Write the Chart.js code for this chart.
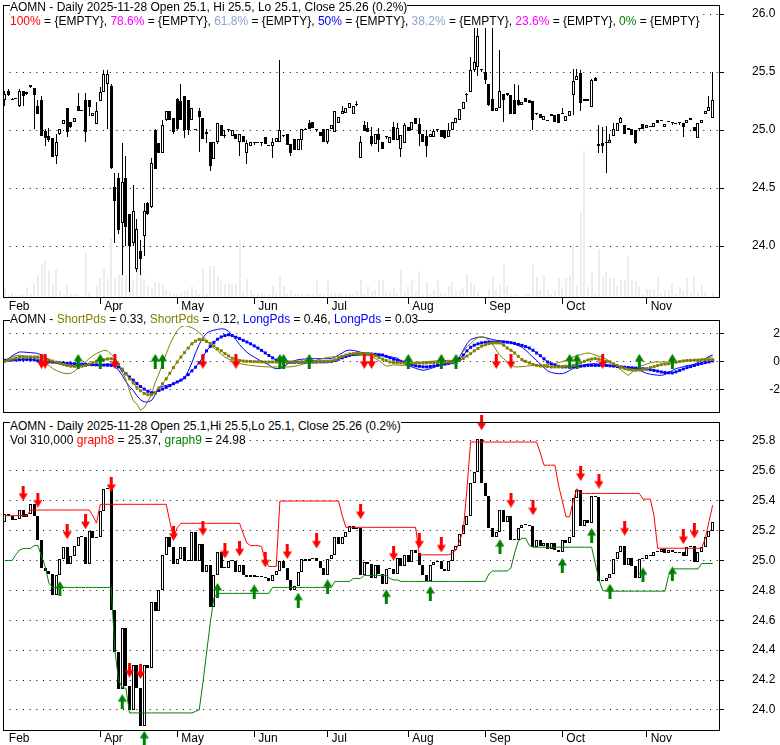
<!DOCTYPE html>
<html><head><meta charset="utf-8">
<script src="https://cdn.jsdelivr.net/npm/chart.js@4.4.1/dist/chart.umd.min.js"></script>
<style>
html,body{margin:0;padding:0;background:#fff;}
body{width:780px;height:745px;position:relative;overflow:hidden;font-family:'Liberation Sans',Arial,sans-serif;font-size:12px;color:#000;}
canvas{position:absolute;left:0;}
.t{position:absolute;left:10px;line-height:14px;height:14px;white-space:pre;font-size:12px;background:#fff;}
</style></head><body>
<canvas id="c1" width="780" height="315" style="top:0px;width:780px;height:315px"></canvas>
<canvas id="c2" width="780" height="100" style="top:315px;width:780px;height:100px"></canvas>
<canvas id="c3" width="780" height="330" style="top:415px;width:780px;height:330px"></canvas>
<div class="t" id="t1" style="top:0px"></div>
<div class="t" style="top:14px"><span style="color:#ff0000">100%</span> = {EMPTY}, <span style="color:#ff00ff">78.6%</span> = {EMPTY}, <span style="color:#8fa5d0">61.8%</span> = {EMPTY}, <span style="color:#0000ff">50%</span> = {EMPTY}, <span style="color:#8fa5d0">38.2%</span> = {EMPTY}, <span style="color:#ff00ff">23.6%</span> = {EMPTY}, <span style="color:#008000">0%</span> = {EMPTY}</div>
<div class="t" id="t2" style="top:312px"></div>
<div class="t" id="t3" style="top:419px"></div>
<div class="t" id="t4" style="top:433px"></div>
<script>
// ---------- DATA ----------
const ticker = 'AOMN';
const lastDate = '2025-11-28';
// first trading day index of each labelled month, and its label
const monthTickIdx = [0, 26, 47, 68, 88, 110, 131, 152, 175];
const monthTickLbl = ['Feb', 'Apr', 'May', 'Jun', 'Jul', 'Aug', 'Sep', 'Oct', 'Nov'];
const priceTicks = [24.0, 24.5, 25.0, 25.5, 26.0];
const oscTicks = [-2, 0, 2];
const lowerTicks = [24.0, 24.2, 24.4, 24.6, 24.8, 25.0, 25.2, 25.4, 25.6, 25.8];

const open = [
25.26,25.34,25.26,25.27,25.21,25.34,25.33,25.39,25.36,25.21,
25.26,24.99,24.95,24.93,24.78,24.965,25.055,25.19,25.07,25.07,
25.21,25.16,25.26,25.26,25.12,25.05,25.25,25.33,25.40,25.38,
24.51,24.59,24.20,24.59,24.28,24.03,23.80,23.96,24.09,24.37,
24.34,25.00,24.885,24.80,25.09,25.16,25.10,25.27,25.25,25.29,
25.26,25.09,25.01,25.16,25.10,24.98,24.90,24.75,24.90,25.04,
24.96,25.00,24.95,24.97,24.90,24.95,24.80,24.86,24.89,24.89,
24.89,24.94,24.86,24.86,24.90,24.90,24.95,24.97,24.88,24.92,
24.83,24.91,25.01,25.06,25.07,25.01,24.98,25.01,24.90,25.01,
24.98,25.06,25.14,25.15,25.19,25.14,25.22,24.76,25.04,25.02,
24.95,24.88,24.97,24.90,24.94,24.89,25.03,24.91,24.84,24.89,
25.03,25.00,25.10,25.05,24.97,24.95,24.94,24.94,25.00,25.00,
25.00,24.94,25.00,25.06,25.09,25.18,25.30,25.33,25.52,25.54,
25.52,25.50,25.40,25.27,25.16,25.19,25.31,25.32,25.30,25.26,
25.26,25.22,25.28,25.26,25.25,25.14,25.14,25.09,25.09,25.14,
25.13,25.14,25.14,25.08,25.12,25.30,25.43,25.49,25.25,25.27,
25.20,25.445,24.88,24.885,24.885,24.89,24.95,24.99,25.06,25.04,
25.00,25.01,25.00,25.01,25.05,25.02,25.03,25.03,25.09,25.09,
25.03,25.08,25.06,25.05,25.06,25.06,25.06,25.09,25.03,24.93,
25.06,25.14,25.16,25.10];
const high = [
25.34,25.35,25.28,25.28,25.35,25.34,25.33,25.39,25.36,25.26,
25.29,25.01,25.02,24.93,24.97,25.01,25.09,25.19,25.07,25.10,
25.32,25.16,25.32,25.26,25.15,25.24,25.37,25.52,25.52,25.40,
24.63,24.63,24.89,24.78,24.28,24.53,24.23,24.05,24.37,24.38,
24.76,25.01,24.89,25.09,25.16,25.16,25.10,25.28,25.40,25.29,
25.26,25.19,25.01,25.19,25.10,25.01,24.90,24.90,25.06,25.04,
25.00,25.01,25.00,24.97,24.97,24.95,24.91,24.90,24.89,24.89,
24.89,24.94,24.86,24.93,24.93,25.60,24.96,24.97,24.88,24.92,
24.92,25.01,25.02,25.09,25.07,25.01,24.98,25.01,25.01,25.04,
25.16,25.11,25.21,25.19,25.23,25.21,25.25,24.95,25.08,25.07,
25.03,24.97,25.02,24.90,24.94,24.94,25.07,25.06,24.96,25.06,
25.03,25.07,25.10,25.10,24.97,25.00,24.97,25.01,25.00,25.00,
25.00,25.06,25.07,25.10,25.18,25.24,25.32,25.63,25.89,25.89,
25.52,25.88,25.40,25.88,25.19,25.69,25.31,25.32,25.30,25.40,
25.39,25.24,25.28,25.26,25.25,25.15,25.14,25.12,25.09,25.14,
25.13,25.14,25.19,25.12,25.16,25.53,25.53,25.52,25.27,25.27,
25.44,25.46,25.04,25.03,25.035,24.97,25.06,25.06,25.11,25.04,
25.02,25.01,25.00,25.01,25.05,25.04,25.035,25.06,25.09,25.09,
25.05,25.08,25.06,25.05,25.06,25.06,25.09,25.10,25.03,25.06,
25.09,25.16,25.29,25.50];
const low = [
25.21,25.29,25.26,25.27,25.20,25.21,25.30,25.36,25.01,25.14,
24.95,24.86,24.90,24.77,24.71,24.96,25.05,24.94,25.02,25.07,
25.16,25.16,24.90,25.12,25.12,25.05,25.25,25.33,25.01,24.66,
24.03,24.10,23.75,24.00,23.60,24.00,23.78,23.75,23.91,24.27,
24.33,24.66,24.80,24.80,25.08,25.09,24.97,25.00,25.09,24.93,
24.96,25.09,25.00,24.81,24.92,24.89,24.65,24.75,24.88,24.95,
24.93,24.98,24.95,24.92,24.78,24.90,24.71,24.86,24.87,24.89,
24.86,24.88,24.86,24.76,24.90,24.90,24.94,24.87,24.78,24.83,
24.83,24.83,25.00,25.01,25.02,24.98,24.95,24.90,24.88,25.01,
24.98,25.06,25.14,25.15,25.19,25.14,25.21,24.76,24.99,24.98,
24.86,24.88,24.81,24.84,24.92,24.89,24.91,24.91,24.77,24.89,
24.99,25.00,25.05,24.86,24.90,24.77,24.94,24.94,24.98,24.94,
24.92,24.94,25.00,25.06,25.09,25.18,25.24,25.33,25.50,25.47,
25.50,25.40,25.21,25.16,25.16,25.19,25.07,25.29,25.14,25.14,
25.21,25.22,25.24,25.23,25.00,25.13,25.10,25.09,25.08,25.12,
25.07,25.06,25.14,25.08,25.12,25.13,25.43,25.16,25.25,25.25,
25.20,25.42,24.80,24.80,24.63,24.89,24.95,24.99,25.06,24.97,
25.00,24.96,24.88,24.99,25.01,25.02,25.03,25.03,25.06,25.08,
25.03,25.07,25.04,25.05,25.04,24.94,25.06,25.09,24.99,24.93,
25.06,25.14,25.16,25.10];
const close = [
25.31,25.30,25.27,25.275,25.34,25.29,25.31,25.375,25.30,25.14,
24.95,24.93,24.91,24.77,24.90,25.01,25.09,24.98,25.03,25.10,
25.16,25.16,24.98,25.20,25.15,25.16,25.33,25.48,25.48,24.67,
24.39,24.14,24.55,24.16,24.00,24.30,24.15,23.89,24.30,24.28,
24.72,24.66,24.80,25.04,25.16,25.09,24.98,25.01,25.09,25.00,
25.00,25.19,25.00,25.11,24.92,24.97,24.69,24.90,25.06,24.95,
24.95,25.00,25.00,24.92,24.97,24.90,24.89,24.90,24.89,24.89,
24.89,24.88,24.86,24.90,24.93,25.00,24.95,24.87,24.80,24.83,
24.92,25.01,25.00,25.01,25.02,25.00,24.95,24.90,25.01,25.04,
25.16,25.11,25.16,25.19,25.23,25.21,25.22,24.90,24.99,24.98,
24.88,24.97,24.91,24.84,24.94,24.94,24.91,25.02,24.96,25.04,
24.99,25.07,25.05,24.97,24.90,24.86,24.97,24.99,25.00,24.94,
24.93,25.00,25.07,25.10,25.18,25.24,25.30,25.52,25.59,25.81,
25.52,25.43,25.22,25.16,25.19,25.34,25.26,25.30,25.14,25.14,
25.22,25.24,25.24,25.23,25.09,25.14,25.10,25.12,25.08,25.12,
25.07,25.06,25.14,25.12,25.16,25.42,25.47,25.23,25.27,25.25,
25.43,25.425,24.86,24.86,24.885,24.91,25.01,25.06,25.10,24.97,
25.02,24.96,24.885,25.01,25.01,25.04,25.03,25.06,25.06,25.08,
25.05,25.07,25.06,25.05,25.06,25.03,25.09,25.10,24.99,25.06,
25.09,25.16,25.20,25.26];
const volume = [
600000,160000,300000,160000,160000,220000,660000,220000,900000,1400000,
2060000,2200000,1660000,760000,1720000,420000,160000,760000,260000,260000,
260000,60000,2720000,360000,60000,760000,1220000,1760000,1160000,3600000,
1260000,1360000,1360000,1360000,460000,1160000,1860000,1560000,1160000,700000,
660000,960000,900000,760000,460000,360000,260000,260000,320000,420000,
500000,700000,460000,260000,1720000,220000,1900000,1900000,1300000,1020000,
820000,900000,760000,860000,3460000,360000,1120000,460000,260000,300000,
220000,160000,260000,700000,360000,1300000,700000,260000,500000,220000,
220000,220000,260000,260000,220000,1000000,300000,260000,1000000,300000,
300000,300000,260000,220000,220000,260000,420000,1060000,260000,700000,
360000,460000,1060000,1100000,400000,360000,600000,260000,1760000,420000,
700000,1060000,400000,1620000,260000,960000,260000,460000,1060000,300000,
300000,700000,960000,460000,460000,620000,1420000,900000,760000,400000,
60000,60000,560000,1260000,460000,820000,2060000,700000,160000,220000,
160000,120000,260000,260000,2000000,1240000,460000,1300000,460000,220000,
460000,1220000,660000,1220000,1360000,3160000,760000,5160000,8800000,660000,
1540000,260000,2920000,1260000,1540000,1200000,1200000,700000,1060000,1060000,
2500000,1000000,1000000,700000,220000,560000,460000,560000,1260000,220000,
500000,500000,900000,220000,660000,460000,1200000,300000,1300000,360000,
760000,360000,100000,310000];
// lower panel channel lines
const graph8 = [
25.30,25.30,25.30,25.30,25.30,25.30,25.30,25.338,25.338,25.338,
25.338,25.338,25.338,25.338,25.338,25.338,25.338,25.338,25.338,25.338,
25.338,25.338,25.338,25.338,25.30,25.25,25.376,25.376,25.376,25.376,
25.376,25.376,25.376,25.376,25.376,25.376,25.376,25.376,25.376,25.376,
25.376,25.376,25.376,25.376,25.376,25.26,25.15,25.22,25.249,25.249,
25.249,25.249,25.249,25.249,25.249,25.249,25.249,25.249,25.249,25.249,
25.249,25.249,25.249,25.249,25.249,25.18,25.116,25.10,25.10,25.10,
25.093,25.00,24.96,24.96,24.96,25.398,25.398,25.398,25.398,25.398,
25.398,25.398,25.398,25.398,25.398,25.398,25.398,25.398,25.398,25.398,
25.398,25.398,25.30,25.222,25.222,25.222,25.222,25.222,25.222,25.222,
25.222,25.222,25.222,25.222,25.222,25.222,25.222,25.222,25.222,25.222,
25.222,25.222,25.222,25.038,25.038,25.038,25.038,25.038,25.038,25.038,
25.038,25.038,25.05,25.07,25.13,25.20,25.48,25.793,25.793,25.793,
25.793,25.793,25.793,25.793,25.793,25.793,25.793,25.793,25.793,25.793,
25.793,25.793,25.793,25.793,25.793,25.793,25.72,25.638,25.638,25.638,
25.638,25.50,25.40,25.293,25.293,25.40,25.48,25.449,25.449,25.449,
25.449,25.449,25.449,25.449,25.449,25.449,25.449,25.449,25.449,25.449,
25.449,25.449,25.449,25.449,25.411,25.411,25.411,25.30,25.082,25.082,
25.082,25.082,25.082,25.082,25.082,25.082,25.082,25.082,25.082,25.082,
25.082,25.15,25.26,25.37];
const graph9 = [
25.00,25.00,25.00,25.04,25.07,25.08,25.08,25.08,25.10,25.10,
25.03,24.96,24.85,24.82,24.82,24.82,24.82,24.82,24.82,24.82,
24.82,24.82,24.82,24.82,24.82,24.82,24.82,24.82,24.82,24.82,
24.40,24.20,24.15,24.145,23.98,23.98,23.98,23.98,23.98,23.98,
23.98,23.98,23.98,23.98,23.98,23.98,23.98,23.98,23.98,23.98,
23.98,23.98,23.99,24.00,24.18,24.38,24.58,24.75,24.78,24.78,
24.78,24.78,24.78,24.78,24.78,24.78,24.78,24.78,24.78,24.78,
24.78,24.78,24.78,24.82,24.82,24.82,24.82,24.82,24.82,24.82,
24.82,24.82,24.82,24.82,24.82,24.82,24.82,24.82,24.82,24.82,
24.86,24.86,24.86,24.86,24.86,24.88,24.88,24.88,24.90,24.90,
24.90,24.90,24.90,24.90,24.90,24.88,24.87,24.87,24.86,24.86,
24.86,24.86,24.86,24.86,24.86,24.86,24.86,24.86,24.86,24.86,
24.86,24.86,24.86,24.86,24.86,24.86,24.86,24.86,24.86,24.86,
24.86,24.86,24.91,24.93,24.93,24.93,24.93,24.93,24.95,25.05,
25.13,25.149,25.149,25.10,25.089,25.089,25.089,25.089,25.089,25.089,
25.089,25.089,25.089,25.089,25.089,25.089,25.089,25.089,25.089,25.089,
25.089,24.98,24.87,24.80,24.795,24.795,24.795,24.795,24.795,24.795,
24.795,24.795,24.795,24.795,24.795,24.795,24.795,24.795,24.795,24.795,
24.795,24.90,24.944,24.944,24.944,24.944,24.944,24.944,24.944,24.944,
24.98,24.98,24.98,24.98];
// oscillator panel
const shortPds1 = [
0.07,0.20,0.32,0.40,0.43,0.40,0.35,0.30,0.25,0.20,
0.10,-0.05,-0.30,-0.50,-0.65,-0.76,-0.85,-0.88,-0.85,-0.70,
-0.50,-0.30,-0.05,0.20,0.40,0.55,0.68,0.78,0.75,0.50,
0.25,-0.20,-0.75,-1.30,-2.10,-2.80,-3.05,-3.50,-3.30,-2.85,
-2.40,-1.50,-0.90,-0.20,0.55,1.20,1.74,2.20,2.45,2.55,
2.50,2.40,2.25,2.05,1.80,1.50,1.20,0.95,0.75,0.50,
0.30,0.15,0.05,-0.05,-0.15,-0.22,-0.26,-0.29,-0.32,-0.35,
-0.37,-0.39,-0.40,-0.40,-0.40,-0.40,-0.40,-0.40,-0.39,-0.35,
-0.30,-0.22,-0.15,-0.08,0.00,0.08,0.15,0.22,0.28,0.31,
0.33,0.35,0.38,0.40,0.42,0.43,0.43,0.43,0.43,0.43,
0.35,0.20,0.05,-0.15,-0.35,-0.30,-0.25,-0.27,-0.29,-0.29,
-0.29,-0.22,-0.15,-0.08,-0.05,-0.02,0.00,0.02,0.04,0.05,
0.06,0.07,0.07,0.07,0.35,0.70,1.05,1.26,1.50,1.70,
1.74,1.70,1.50,1.20,0.80,0.40,0.19,-0.05,-0.25,-0.40,
-0.40,-0.38,-0.35,-0.32,-0.30,-0.29,-0.27,-0.25,-0.22,-0.20,
-0.17,-0.10,-0.02,0.08,0.20,0.31,0.40,0.48,0.55,0.60,
0.55,0.45,0.35,0.31,0.15,0.00,-0.20,-0.40,-0.62,-0.82,
-1.00,-0.80,-0.55,-0.38,-0.29,-0.20,-0.12,-0.05,-0.05,-0.05,
-0.05,-0.05,-0.05,-0.05,0.00,0.02,0.04,0.06,0.07,0.10,
0.15,0.20,0.27,0.33];
const shortPds2 = [
0.00,0.08,0.16,0.23,0.30,0.31,0.31,0.31,0.31,0.31,
0.28,0.20,0.10,0.02,-0.06,-0.14,-0.22,-0.30,-0.35,-0.36,
-0.36,-0.35,-0.30,-0.20,-0.10,0.00,0.07,0.12,0.17,0.19,
0.05,-0.22,-0.55,-0.90,-1.24,-1.55,-1.85,-2.10,-2.30,-2.38,
-2.38,-2.25,-1.90,-1.60,-1.25,-0.85,-0.45,-0.05,0.30,0.62,
0.95,1.25,1.45,1.57,1.55,1.42,1.28,1.10,0.90,0.75,
0.55,0.38,0.22,0.12,0.06,0.02,0.00,-0.01,-0.02,-0.03,
-0.04,-0.05,-0.05,-0.05,-0.05,-0.05,-0.05,-0.05,-0.05,-0.05,
-0.05,-0.05,-0.05,-0.04,-0.03,-0.02,-0.02,-0.01,0.00,0.02,
0.10,0.22,0.35,0.45,0.52,0.55,0.56,0.56,0.55,0.55,
0.50,0.40,0.28,0.15,0.05,-0.05,-0.08,-0.10,-0.11,-0.12,
-0.12,-0.12,-0.12,-0.12,-0.12,-0.11,-0.10,-0.09,-0.08,-0.07,
-0.06,-0.05,-0.05,-0.05,0.05,0.20,0.38,0.55,0.75,0.92,
1.08,1.18,1.26,1.30,1.31,1.31,1.15,0.95,0.79,0.60,
0.35,0.12,0.00,-0.12,-0.22,-0.29,-0.33,-0.36,-0.38,-0.40,
-0.40,-0.40,-0.38,-0.35,-0.32,-0.29,-0.20,-0.10,0.00,0.10,
0.16,0.19,0.15,0.08,0.00,-0.05,-0.18,-0.30,-0.42,-0.52,
-0.58,-0.62,-0.64,-0.62,-0.58,-0.52,-0.45,-0.38,-0.30,-0.24,
-0.20,-0.17,-0.12,-0.07,-0.02,0.03,0.06,0.07,0.08,0.09,
0.10,0.11,0.12,0.12];
const longPds1 = [
0.00,0.20,0.40,0.55,0.67,0.66,0.64,0.62,0.60,0.56,
0.45,0.30,0.12,0.00,-0.10,-0.18,-0.24,-0.29,-0.30,-0.30,
-0.30,-0.30,-0.30,-0.30,-0.29,-0.28,-0.28,-0.24,-0.18,-0.20,
-0.40,-0.62,-1.00,-1.45,-1.80,-2.07,-2.45,-2.75,-2.90,-2.90,
-2.80,-2.40,-1.90,-1.78,-1.72,-1.66,-1.60,-1.50,-1.40,-1.20,
-0.70,-0.10,0.60,1.20,1.70,2.00,2.15,2.22,2.28,2.32,
2.30,2.15,1.85,1.55,1.20,0.90,0.65,0.45,0.30,0.15,
0.00,-0.12,-0.25,-0.45,-0.52,-0.52,-0.40,-0.20,-0.05,0.05,
0.12,0.15,0.17,0.18,0.19,0.19,0.19,0.19,0.19,0.19,
0.30,0.45,0.60,0.75,0.80,0.78,0.72,0.65,0.58,0.55,
0.52,0.48,0.44,0.40,0.35,0.31,0.28,0.22,0.05,-0.15,
-0.29,-0.40,-0.50,-0.58,-0.64,-0.60,-0.52,-0.44,-0.32,-0.25,
-0.18,-0.12,-0.08,-0.05,0.30,0.80,1.25,1.55,1.65,1.72,
1.74,1.70,1.62,1.56,1.50,1.47,1.44,1.40,1.32,1.22,
1.12,1.00,0.80,0.55,0.30,0.07,-0.20,-0.45,-0.68,-0.80,
-0.85,-0.88,-0.88,-0.80,-0.65,-0.50,-0.40,-0.32,-0.25,-0.20,
-0.18,-0.17,-0.20,-0.25,-0.28,-0.29,-0.32,-0.36,-0.40,-0.44,
-0.48,-0.50,-0.52,-0.62,-0.75,-0.86,-0.92,-0.96,-0.99,-1.00,
-0.95,-0.80,-0.65,-0.52,-0.45,-0.38,-0.30,-0.27,-0.20,-0.10,
0.05,0.20,0.35,0.46];
const longPds2 = [
0.07,0.08,0.09,0.10,0.11,0.12,0.12,0.12,0.10,0.04,
0.00,-0.02,-0.04,-0.06,-0.08,-0.10,-0.12,-0.14,-0.15,-0.17,
-0.18,-0.20,-0.21,-0.23,-0.24,-0.25,-0.26,-0.27,-0.28,-0.29,
-0.31,-0.40,-0.62,-0.88,-1.12,-1.34,-1.58,-1.80,-1.98,-2.14,
-2.24,-2.25,-2.08,-1.98,-1.86,-1.74,-1.60,-1.47,-1.34,-1.17,
-0.95,-0.68,-0.42,-0.10,0.30,0.75,1.05,1.35,1.58,1.74,
1.84,1.90,1.84,1.72,1.62,1.50,1.38,1.25,1.10,0.95,
0.78,0.60,0.42,0.25,0.08,0.00,-0.05,-0.06,-0.07,-0.07,
-0.07,-0.06,-0.06,-0.05,-0.05,-0.05,-0.04,-0.04,-0.03,-0.02,
0.05,0.15,0.25,0.34,0.42,0.48,0.52,0.55,0.55,0.54,
0.52,0.50,0.48,0.45,0.35,0.25,0.15,0.08,0.00,-0.05,
-0.15,-0.25,-0.32,-0.36,-0.39,-0.40,-0.37,-0.33,-0.29,-0.25,
-0.20,-0.15,-0.10,-0.05,0.15,0.45,0.75,1.00,1.15,1.25,
1.32,1.36,1.38,1.38,1.38,1.38,1.38,1.36,1.33,1.28,
1.20,1.14,1.05,0.95,0.79,0.60,0.40,0.18,-0.05,-0.18,
-0.28,-0.36,-0.40,-0.40,-0.40,-0.40,-0.38,-0.35,-0.32,-0.29,
-0.29,-0.29,-0.29,-0.29,-0.30,-0.32,-0.34,-0.37,-0.40,-0.42,
-0.44,-0.46,-0.48,-0.50,-0.52,-0.56,-0.60,-0.65,-0.70,-0.76,
-0.80,-0.82,-0.83,-0.75,-0.65,-0.55,-0.45,-0.38,-0.30,-0.22,
-0.15,-0.09,-0.04,0.03];
const oscSellIdx = [10, 11, 30, 54, 63, 98, 100, 134, 138, 163];
const oscBuyIdx = [20, 26, 41, 43, 75, 76, 83, 110, 119, 123, 154, 156, 173, 182];
const oscSignalLevel = 0;
// lower panel signals: [day index, price level]
const sellSignals = [[5,25.449],[9,25.404],[17,25.193],[22,25.26],[29,25.509],[34,24.267],[37,24.256],[46,25.182],[54,25.216],[60,25.064],[64,25.078],[71,25.004],[77,25.06],[85,25.131],[97,25.327],[106,25.049],[113,25.131],[119,25.104],[130,25.922],[138,25.404],[144,25.353],[157,25.582],[162,25.531],[169,25.216],[185,25.16],[188,25.198]];
const buySignals = [[15,24.813],[32,24.056],[38,23.81],[58,24.80],[68,24.79],[80,24.735],[88,24.824],[104,24.757],[116,24.78],[135,25.093],[152,24.967],[160,25.167],[165,24.795],[174,24.904],[182,24.91]];

// ---------- TEXT ----------
const N = close.length;
const fmt = v => String(Number(v.toFixed(2)));
const pct = ((close[N-1] - close[N-2]) / close[N-2] * 100).toFixed(1);
document.getElementById('t1').textContent =
  `${ticker} - Daily ${lastDate} Open ${fmt(open[N-1])}, Hi ${fmt(high[N-1])}, Lo ${fmt(low[N-1])}, Close ${fmt(close[N-1])} (${pct}%)`;
document.getElementById('t3').textContent =
  `${ticker} - Daily ${lastDate} Open ${fmt(open[N-1])},Hi ${fmt(high[N-1])},Lo ${fmt(low[N-1])}, Close ${fmt(close[N-1])} (${pct}%)`;
document.getElementById('t2').innerHTML =
  `${ticker} - <span style="color:#808000">ShortPds</span> = ${shortPds1[N-1].toFixed(2)}, <span style="color:#808000">ShortPds</span> = ${shortPds2[N-1].toFixed(2)}, <span style="color:#0000ff">LongPds</span> = ${longPds1[N-1].toFixed(2)}, <span style="color:#0000ff">LongPds</span> = ${longPds2[N-1].toFixed(2)}`;
document.getElementById('t4').innerHTML =
  `Vol ${volume[N-1].toLocaleString('en-US')} <span style="color:#ff0000">graph8</span> = ${graph8[N-1].toFixed(2)}, <span style="color:#008000">graph9</span> = ${graph9[N-1].toFixed(2)}`;

// ---------- CHARTS ----------
Chart.defaults.font.family = "'Liberation Sans', Arial, Helvetica, sans-serif";
Chart.defaults.font.size = 12;
Chart.defaults.color = '#000';

const X_MIN = -0.5, X_MAX = 195;

function arrowImg(color, up) {
  const c = document.createElement('canvas');
  c.width = 9; c.height = 15;
  const g = c.getContext('2d');
  g.fillStyle = color;
  g.beginPath();
  if (up) {
    g.moveTo(4.5, 0); g.lineTo(9, 7.5); g.lineTo(0, 7.5); g.closePath();
    g.rect(3, 7, 3, 8);
  } else {
    g.rect(3, 0, 3, 8);
    g.moveTo(0, 7.5); g.lineTo(9, 7.5); g.lineTo(4.5, 15); g.closePath();
  }
  g.fill();
  return c;
}
const redDown = arrowImg('#ff0000', false);
const greenUp = arrowImg('#008000', true);

const framePlugin = {
  id: 'frame',
  afterDraw(chart) {
    const { ctx, chartArea: a } = chart;
    ctx.save();
    ctx.strokeStyle = '#000';
    ctx.lineWidth = 1;
    ctx.strokeRect(a.left + 0.5, a.top + 0.5, a.right - a.left - 1, a.bottom - a.top - 1);
    ctx.restore();
  }
};
// snap bar elements (already positioned by the scales) to whole device pixels for crisp edges
const snapPlugin = {
  id: 'snap',
  beforeDatasetsDraw(chart) {
    chart.data.datasets.forEach((ds, di) => {
      const meta = chart.getDatasetMeta(di);
      if (meta.type !== 'bar') return;
      meta.data.forEach(el => {
        const w = el.width;
        el.x = Math.round(el.x - w / 2) + w / 2;
        let y = Math.round(el.y), b = Math.round(el.base);
        if (y === b && Math.abs(el.y - el.base) >= 0.5) { b = y + 1; }
        el.y = y; el.base = b;
      });
    });
  }
};

function zeroPad(s) { s.paddingTop = 0; s.paddingBottom = 0; s.paddingLeft = 0; s.paddingRight = 0; }

function xAxis(h, pad) {
  return {
    type: 'linear', min: X_MIN, max: X_MAX, offset: false,
    afterBuildTicks: s => { s.ticks = monthTickIdx.map(v => ({ value: v })); },
    ticks: {
      autoSkip: false, maxRotation: 0, minRotation: 0, align: 'start', labelOffset: 4, padding: pad,
      color: '#000', font: { size: 12 },
      callback: v => { const k = monthTickIdx.indexOf(v); return k < 0 ? '' : monthTickLbl[k]; }
    },
    grid: {
      display: true, offset: false, drawOnChartArea: false, drawTicks: true, tickLength: 6, tickWidth: 1,
      tickColor: c => (c.index === 0 ? 'rgba(0,0,0,0)' : '#000')
    },
    border: { display: false },
    afterFit: s => { s.height = h; zeroPad(s); }
  };
}
function yAxis(min, max, ticks, format, crossAlign, pad) {
  return {
    position: 'right', min, max,
    afterBuildTicks: s => { s.ticks = ticks.map(v => ({ value: v })); },
    ticks: { callback: v => format(v), crossAlign, padding: pad, color: '#000', font: { size: 12 } },
    grid: { color: '#000', lineWidth: 1, drawOnChartArea: true, drawTicks: true, tickLength: 4, tickColor: '#000', tickWidth: 1 },
    border: { display: false, dash: [1, 5.67] },
    afterFit: s => { s.width = 60; zeroPad(s); }
  };
}
const baseOpts = (padTop, padBottom) => ({
  responsive: false, animation: false, events: [],
  layout: { padding: { top: padTop, left: 3, right: 0, bottom: padBottom }, autoPadding: false },
  plugins: { legend: { display: false }, tooltip: { enabled: false } }
});

// --- top price panel ---
const o1 = baseOpts(5, 0);
o1.scales = {
  x: xAxis(17, -5),
  y: yAxis(23.552, 26.078, priceTicks, v => v.toFixed(1), 'near', 28),
  yv: { display: false, min: 0, max: 17580000 }
};
new Chart(document.getElementById('c1'), {
  type: 'bar',
  data: { datasets: [
    { type: 'bar', data: close.map((c, i) => ({ x: i, y: [open[i], c] })),
      backgroundColor: close.map((c, i) => (c >= open[i] ? '#ffffff' : '#000000')),
      borderColor: '#000', borderWidth: 1, borderSkipped: false, barThickness: 3, minBarLength: 1,
      grouped: false, order: 0, yAxisID: 'y', inflateAmount: 0 },
    { type: 'bar', data: high.map((h, i) => ({ x: i, y: [low[i], h] })),
      backgroundColor: '#000', borderWidth: 0, barThickness: 1, grouped: false, order: 1, yAxisID: 'y', inflateAmount: 0 },
    { type: 'bar', data: volume.map((v, i) => ({ x: i, y: v })),
      backgroundColor: '#ededed', borderWidth: 0, barThickness: 2, grouped: false, order: 2, yAxisID: 'yv', inflateAmount: 0 }
  ] },
  options: o1,
  plugins: [snapPlugin, framePlugin]
});

// --- oscillator panel ---
const o2 = baseOpts(5, 2);
o2.scales = {
  x: { type: 'linear', min: X_MIN, max: X_MAX, display: false, offset: false },
  y: yAxis(-3.69, 2.95, oscTicks, v => String(v), 'far', 35)
};
const pts = arr => arr.map((v, i) => ({ x: i, y: v }));
new Chart(document.getElementById('c2'), {
  type: 'line',
  data: { datasets: [
    { data: oscSellIdx.map(i => ({ x: i, y: oscSignalLevel })), showLine: false, pointStyle: redDown, pointRadius: 8, clip: false, order: 0 },
    { data: oscBuyIdx.map(i => ({ x: i, y: oscSignalLevel })), showLine: false, pointStyle: greenUp, pointRadius: 8, clip: false, order: 0 },
    { data: pts(shortPds2), borderColor: '#808000', backgroundColor: '#808000', borderWidth: 1, pointStyle: 'rect', pointRadius: 2.1, pointBorderWidth: 0, pointBackgroundColor: '#808000', order: 1 },
    { data: pts(longPds2), borderColor: '#0000ff', backgroundColor: '#0000ff', borderWidth: 1, pointStyle: 'rect', pointRadius: 2.1, pointBorderWidth: 0, pointBackgroundColor: '#0000ff', order: 2 },
    { data: pts(shortPds1), borderColor: '#808000', borderWidth: 1, pointRadius: 0, order: 3 },
    { data: pts(longPds1), borderColor: '#0000ff', borderWidth: 1, pointRadius: 0, order: 4 }
  ] },
  options: o2,
  plugins: [framePlugin]
});

// --- lower close-to-close panel ---
const o3 = baseOpts(7, 0);
o3.scales = {
  x: xAxis(14, -5.5),
  y: yAxis(23.859, 25.927, lowerTicks, v => v.toFixed(1), 'near', 28)
};
const prevClose = close.map((c, i) => (i === 0 ? open[0] : close[i - 1]));
new Chart(document.getElementById('c3'), {
  type: 'bar',
  data: { datasets: [
    { type: 'line', data: sellSignals.map(([i, p]) => ({ x: i, y: p })), showLine: false, pointStyle: redDown, pointRadius: 8, clip: false, order: 0 },
    { type: 'line', data: buySignals.map(([i, p]) => ({ x: i, y: p })), showLine: false, pointStyle: greenUp, pointRadius: 8, clip: false, order: 0 },
    { type: 'line', data: pts(graph8), borderColor: '#ff0000', borderWidth: 1, pointRadius: 0, order: 1 },
    { type: 'line', data: pts(graph9), borderColor: '#008000', borderWidth: 1, pointRadius: 0, order: 1 },
    { type: 'bar', data: close.map((c, i) => ({ x: i, y: [prevClose[i], c] })),
      backgroundColor: close.map((c, i) => (c >= prevClose[i] ? '#ffffff' : '#000000')),
      borderColor: '#000', borderWidth: 1, borderSkipped: false, barThickness: 3, minBarLength: 1,
      grouped: false, order: 2, inflateAmount: 0 }
  ] },
  options: o3,
  plugins: [snapPlugin, framePlugin]
});
</script>
</body></html>
